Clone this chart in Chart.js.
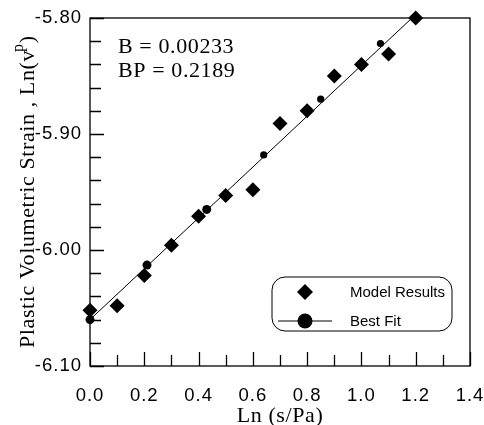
<!DOCTYPE html>
<html>
<head>
<meta charset="utf-8">
<script src="https://cdn.jsdelivr.net/npm/chart.js@4.4.1/dist/chart.umd.min.js"></script>
<style>
  html, body { margin: 0; padding: 0; background: #fff; }
  #wrap { width: 484px; height: 425px; position: relative; }
</style>
</head>
<body>
<div id="wrap"><canvas id="c" width="484" height="425"></canvas></div>
<script>
// ---- data ----
const modelX = [0.0, 0.1, 0.2, 0.3, 0.4, 0.5, 0.6, 0.7, 0.8, 0.9, 1.0, 1.1, 1.2];
const modelY = [-6.052, -6.048, -6.022, -5.996, -5.971, -5.953, -5.948, -5.891, -5.880, -5.850, -5.840, -5.831, -5.800];
const fitX = [0.0, 0.21, 0.43, 0.64, 0.85, 1.07];
const fitY = [-6.060, -6.013, -5.965, -5.918, -5.870, -5.822];
const lineX = [0.0, 1.2];
const lineY = [-6.060, -5.797];
const xTicks = [0.0, 0.2, 0.4, 0.6, 0.8, 1.0, 1.2, 1.4];
const yTicks = [-6.10, -6.00, -5.90, -5.80];
const seriesLabels = ['Model Results', 'Best Fit'];
const annotationLines = ['B = 0.00233', 'BP = 0.2189'];
const xTitle = 'Ln (s/Pa)';
const yTitleMain = 'Plastic Volumetric Strain , Ln(v';
const yTitleSup = 'p';
const yTitleEnd = ')';

const toPts = (xs, ys) => xs.map((x, i) => ({ x: x, y: ys[i] }));

const SANS = '"Liberation Sans", Arial, sans-serif';
const SERIF = '"Liberation Serif", "Times New Roman", serif';

const framePlugin = {
  id: 'frame',
  beforeDraw(chart) {
    const ctx = chart.ctx;
    try { ctx.letterSpacing = '1px'; } catch (e) {}
  },
  afterDraw(chart) {
    const ctx = chart.ctx;
    const a = chart.chartArea;
    const xs = chart.scales.x, ys = chart.scales.y;
    ctx.save();
    ctx.strokeStyle = '#000';
    ctx.lineWidth = 1.3;
    ctx.strokeRect(a.left, a.top, a.right - a.left, a.bottom - a.top);
    // inward ticks, bottom axis
    ctx.beginPath();
    for (let i = 0; i <= 14; i++) {
      const v = i / 10;
      const px = Math.round(xs.getPixelForValue(v)) + 0.5;
      const len = (i % 2 === 0) ? 14 : 11;
      ctx.moveTo(px, a.bottom);
      ctx.lineTo(px, a.bottom - len);
    }
    // inward ticks, left axis
    for (let i = 0; i <= 15; i++) {
      const v = -6.10 + i * 0.02;
      const py = Math.round(ys.getPixelForValue(v)) + 0.5;
      const len = (i % 5 === 0) ? 14 : 11;
      ctx.moveTo(a.left, py);
      ctx.lineTo(a.left + len, py);
    }
    ctx.stroke();

    // annotation text
    ctx.fillStyle = '#000';
    try { ctx.letterSpacing = '0.6px'; } catch (e) {}
    ctx.font = '22px ' + SERIF;
    ctx.textAlign = 'left';
    ctx.textBaseline = 'alphabetic';
    ctx.fillText(annotationLines[0], 118, 53);
    ctx.fillText(annotationLines[1], 118, 77);

    // x title
    ctx.textAlign = 'center';
    ctx.fillText(xTitle, (a.left + a.right) / 2, 422);

    // y title (rotated, with superscript)
    ctx.save();
    ctx.translate(34, 348);
    ctx.rotate(-Math.PI / 2);
    ctx.textAlign = 'left';
    ctx.font = '22px ' + SERIF;
    ctx.fillText(yTitleMain, 0, 0);
    let w = ctx.measureText(yTitleMain).width;
    ctx.font = '16px ' + SERIF;
    ctx.fillText(yTitleSup, w - 2, -11);
    let w2 = ctx.measureText(yTitleSup).width;
    ctx.font = '22px ' + SERIF;
    ctx.fillText(yTitleEnd, w - 2 + w2, 0);
    ctx.restore();

    // legend
    const lx = 272, ly = 277, lw = 180, lh = 54, r = 13;
    ctx.beginPath();
    ctx.moveTo(lx + r, ly);
    ctx.arcTo(lx + lw, ly, lx + lw, ly + lh, r);
    ctx.arcTo(lx + lw, ly + lh, lx, ly + lh, r);
    ctx.arcTo(lx, ly + lh, lx, ly, r);
    ctx.arcTo(lx, ly, lx + lw, ly, r);
    ctx.closePath();
    ctx.lineWidth = 1;
    ctx.stroke();
    // diamond
    const dx = 305, dy = 292, dr = 8;
    ctx.beginPath();
    ctx.moveTo(dx, dy - dr); ctx.lineTo(dx + dr, dy); ctx.lineTo(dx, dy + dr); ctx.lineTo(dx - dr, dy); ctx.closePath();
    ctx.fill();
    // line + circle
    ctx.beginPath();
    ctx.moveTo(278, 321); ctx.lineTo(332, 321);
    ctx.stroke();
    ctx.beginPath();
    ctx.arc(305, 321, 7.5, 0, Math.PI * 2);
    ctx.fill();
    try { ctx.letterSpacing = '0px'; } catch (e) {}
    ctx.font = '15px ' + SANS;
    ctx.textAlign = 'left';
    ctx.textBaseline = 'middle';
    ctx.fillText(seriesLabels[0], 350, 293);
    ctx.fillText(seriesLabels[1], 350, 322);
    ctx.restore();
  }
};

new Chart(document.getElementById('c'), {
  type: 'scatter',
  data: {
    datasets: [
      {
        label: 'fit line',
        type: 'line',
        data: toPts(lineX, lineY),
        borderColor: '#000',
        borderWidth: 1,
        pointRadius: 0,
        fill: false,
        showLine: true,
        clip: false,
        order: 3
      },
      {
        label: seriesLabels[0],
        data: toPts(modelX, modelY),
        pointStyle: 'rectRot',
        pointRadius: 7.5,
        backgroundColor: '#000',
        borderColor: '#000',
        borderWidth: 0,
        clip: false,
        order: 1
      },
      {
        label: seriesLabels[1],
        data: toPts(fitX, fitY),
        pointStyle: 'circle',
        pointRadius: (c) => (c.dataIndex < 3 ? 4.5 : 3.6),
        backgroundColor: '#000',
        borderColor: '#000',
        borderWidth: 0,
        clip: false,
        order: 2
      }
    ]
  },
  options: {
    responsive: false,
    animation: false,
    devicePixelRatio: 1,
    layout: { padding: { top: 18, right: 0, left: 0, bottom: 0 } },
    plugins: { legend: { display: false }, tooltip: { enabled: false } },
    scales: {
      x: {
        type: 'linear',
        min: 0, max: 1.4,
        afterBuildTicks: (s) => { s.ticks = xTicks.map(v => ({ value: v })); },
        afterFit: (s) => { s.height = 59; s.paddingLeft = 0; s.paddingRight = 14; },
        grid: { display: false, drawTicks: false },
        border: { display: false },
        ticks: {
          color: '#000',
          font: { family: SANS, size: 18.5 },
          padding: 19,
          maxRotation: 0,
          autoSkip: false,
          callback: (v) => Number(v).toFixed(1)
        }
      },
      y: {
        type: 'linear',
        min: -6.10, max: -5.80,
        afterBuildTicks: (s) => { s.ticks = yTicks.map(v => ({ value: v })); },
        afterFit: (s) => { s.width = 90; s.paddingTop = 0; s.paddingBottom = 0; },
        grid: { display: false, drawTicks: false },
        border: { display: false },
        ticks: {
          color: '#000',
          font: { family: SANS, size: 18.5 },
          padding: 8,
          autoSkip: false,
          callback: (v) => Number(v).toFixed(2)
        }
      }
    }
  },
  plugins: [framePlugin]
});
</script>
</body>
</html>
